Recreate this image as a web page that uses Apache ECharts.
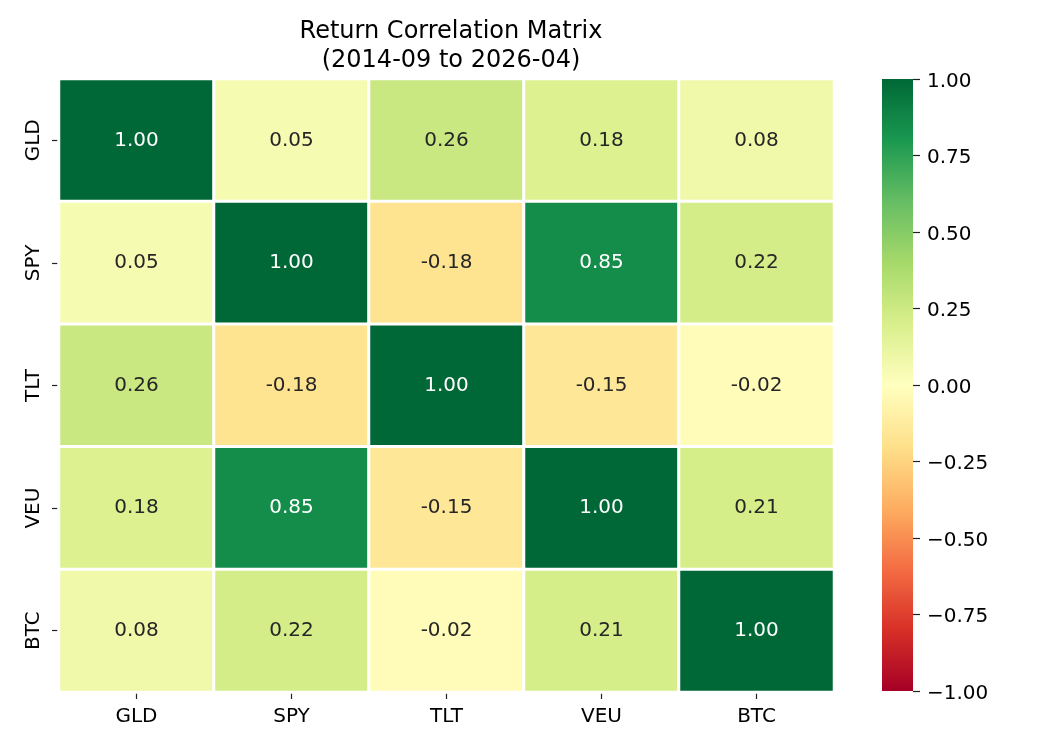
<!DOCTYPE html>
<html><head><meta charset="utf-8">
<script src="https://cdn.jsdelivr.net/npm/echarts@6/dist/echarts.min.js"></script>
<style>html,body{margin:0;padding:0;background:#fff}#c{width:1050px;height:750px}</style>
</head><body><div id="c"></div>
<script>
const assets = ['GLD','SPY','TLT','VEU','BTC'];
const GLD = [1.00, 0.05, 0.26, 0.18, 0.08];
const SPY = [0.05, 1.00, -0.18, 0.85, 0.22];
const TLT = [0.26, -0.18, 1.00, -0.15, -0.02];
const VEU = [0.18, 0.85, -0.15, 1.00, 0.21];
const BTC = [0.08, 0.22, -0.02, 0.21, 1.00];
const rows = [GLD, SPY, TLT, VEU, BTC];
const colorbarTicks = [-1, -0.75, -0.5, -0.25, 0, 0.25, 0.5, 0.75, 1];
const rdylgn = ['#a50026','#d73027','#f46d43','#fdae61','#fee08b','#ffffbf','#d9ef8b','#a6d96a','#66bd63','#1a9850','#006837'];

const data = [];
rows.forEach((r, i) => r.forEach((v, j) => data.push({
  value: [j, i, v],
  label: {color: Math.abs(v) > 0.6 ? '#ffffff' : '#262626'}
})));

const font = 'DejaVu Sans';
const gradStops = rdylgn.slice().reverse().map((c, i) => ({offset: i / (rdylgn.length - 1), color: c}));
const chart = echarts.init(document.getElementById('c'));
chart.setOption({
  animation: false,
  textStyle: {fontFamily: font},
  title: {
    text: 'Return Correlation Matrix\n(2014-09 to 2026-04)',
    left: 446, top: 12, textAlign: 'center',
    textStyle: {fontFamily: font, fontSize: 24, fontWeight: 'normal', color: '#000', lineHeight: 29}
  },
  grid: [
    {left: 59, top: 79, width: 775, height: 613},
    {left: 882, top: 79, width: 31, height: 612}
  ],
  xAxis: [
    {type: 'category', data: assets, gridIndex: 0, position: 'bottom',
     axisLine: {show: false}, axisTick: {show: true, alignWithLabel: true, length: 7, lineStyle: {color: '#222', width: 1.2}},
     axisLabel: {fontFamily: font, fontSize: 20, color: '#000', margin: 15}, splitLine: {show: false}},
    {type: 'category', data: [''], gridIndex: 1, show: false}
  ],
  yAxis: [
    {type: 'category', data: assets, gridIndex: 0, inverse: true,
     axisLine: {show: false}, axisTick: {show: true, alignWithLabel: true, length: 7, lineStyle: {color: '#222', width: 1.2}},
     axisLabel: {fontFamily: font, fontSize: 20, color: '#000', rotate: 90, margin: 15}, splitLine: {show: false}},
    {type: 'value', gridIndex: 1, position: 'right', min: -1, max: 1, interval: 0.25,
     axisLine: {show: false, onZero: false}, splitLine: {show: false},
     axisTick: {show: true, inside: false, length: 7, lineStyle: {color: '#222', width: 1.2}},
     axisLabel: {fontFamily: font, fontSize: 20, color: '#000', margin: 14,
       formatter: v => '{a|' + v.toFixed(2).replace('-', '\u2212') + '}',
       rich: {a: {fontFamily: font, fontSize: 20, color: '#000', padding: [5, 0, 0, 0]}}}}
  ],
  visualMap: {
    type: 'continuous', min: -1, max: 1, calculable: false, seriesIndex: 0,
    inRange: {color: rdylgn}, show: false
  },
  graphic: [{
    type: 'rect', left: 882, top: 79, silent: true, z: -1,
    shape: {width: 31, height: 612},
    style: {fill: new echarts.graphic.LinearGradient(0, 0, 0, 1, gradStops)}
  }],
  series: [
    {type: 'heatmap', xAxisIndex: 0, yAxisIndex: 0, data: data,
     itemStyle: {borderColor: '#fff', borderWidth: 3},
     label: {show: true, fontFamily: font, fontSize: 20,
       formatter: p => p.value[2].toFixed(2)},
     emphasis: {disabled: true}
    }
  ]
});
</script></body></html>
